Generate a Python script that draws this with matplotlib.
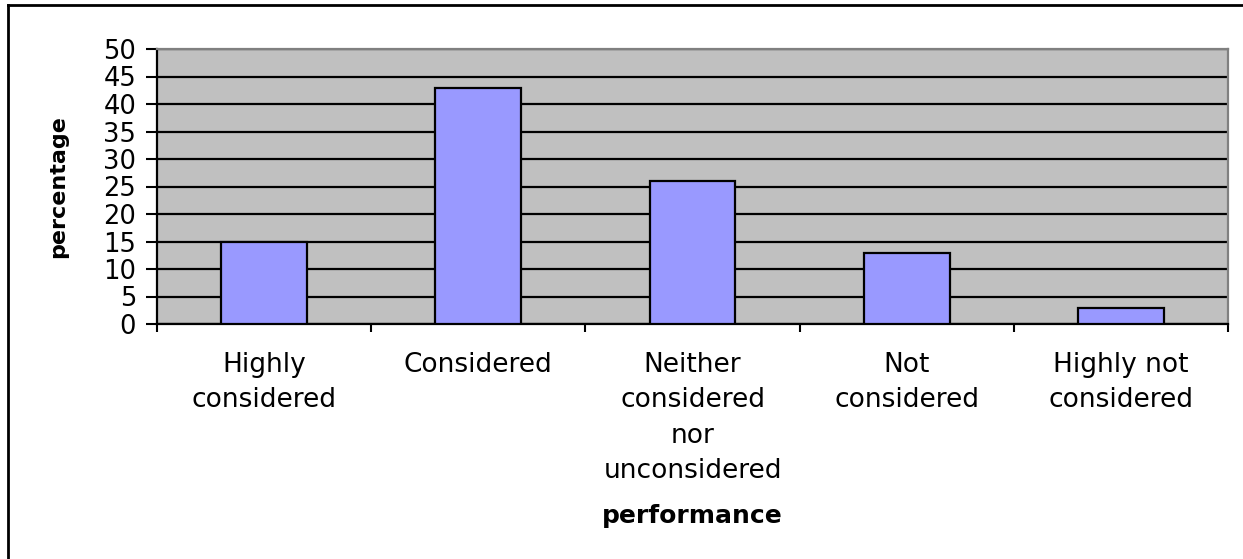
import matplotlib
matplotlib.use("Agg")
import matplotlib.pyplot as plt
from matplotlib.lines import Line2D
import numpy as np

categories = ["Highly\nconsidered", "Considered", "Neither\nconsidered\nnor\nunconsidered",
              "Not\nconsidered", "Highly not\nconsidered"]
percentages = [15, 43, 26, 13, 3]
y_ticks = [0, 5, 10, 15, 20, 25, 30, 35, 40, 45, 50]

plt.rcParams["font.family"] = ["DejaVu Sans"]

W, H = 1243, 559
fig = plt.figure(figsize=(W / 100, H / 100), dpi=100)
fig.patch.set_facecolor("white")

# plot area in pixel terms
left, right, top, bottom = 157, 1228, 49, 324
ax = fig.add_axes([left / W, 1 - bottom / H, (right - left) / W, (bottom - top) / H])
ax.set_facecolor("#C0C0C0")

x = np.arange(len(categories))
ax.set_axisbelow(True)
ax.yaxis.grid(True, color="black", linewidth=1.6)
ax.bar(x, percentages, width=0.4, color="#9999FF", edgecolor="black", linewidth=1.6, zorder=3)

ax.set_xlim(-0.5, len(categories) - 0.5)
ax.set_ylim(0, 50)
ax.set_yticks(y_ticks)
ax.set_yticklabels([str(v) for v in y_ticks], fontsize=18.5)
ax.tick_params(axis="y", length=8, width=1.5, pad=7, direction="out", colors="black")

# category labels at centres, tick marks at category boundaries
ax.set_xticks(x)
ax.set_xticklabels(categories, fontsize=19, linespacing=1.47, va="top")
ax.tick_params(axis="x", which="major", length=0, pad=20)
ax.set_xticks(np.arange(-0.5, len(categories), 1.0), minor=True)
ax.tick_params(axis="x", which="minor", length=6, width=1.5, direction="out")

for side in ("left", "bottom"):
    ax.spines[side].set_color("black")
    ax.spines[side].set_linewidth(1.6)
for side in ("top", "right"):
    ax.spines[side].set_color("#808080")
    ax.spines[side].set_linewidth(1.6)

ax.set_ylabel("percentage", fontsize=16, fontweight="bold")
ax.yaxis.set_label_coords((68 - left) / (right - left), 0.5)
ax.set_xlabel("performance", fontsize=18, fontweight="bold", va="baseline")
ax.xaxis.set_label_coords(0.5, (bottom - 523) / (bottom - top))

# chart frame on the left and top edges
fig.add_artist(Line2D([8 / W, 8 / W], [0, 1 - 5 / H], transform=fig.transFigure,
                      color="black", linewidth=2))
fig.add_artist(Line2D([8 / W, 1], [1 - 5 / H, 1 - 5 / H], transform=fig.transFigure,
                      color="black", linewidth=2))

fig.savefig("out.png", dpi=100)
